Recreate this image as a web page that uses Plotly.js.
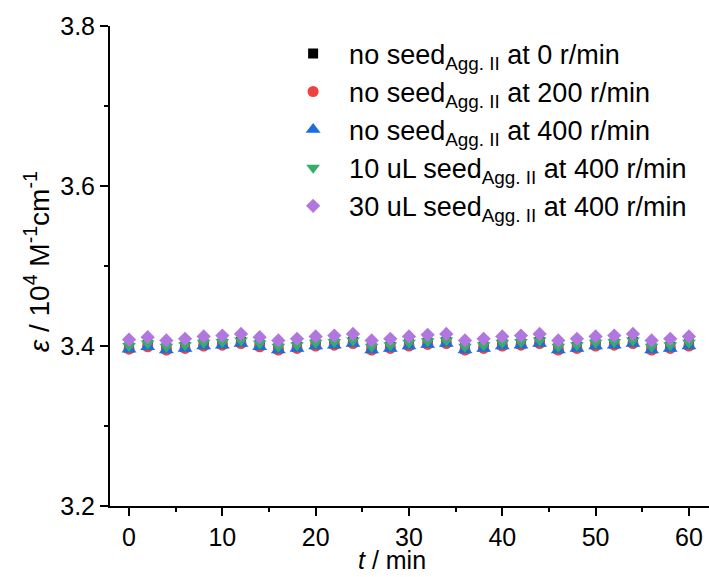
<!DOCTYPE html>
<html>
<head>
<meta charset="utf-8">
<script src="https://cdn.plot.ly/plotly-3.0.1.min.js"></script>
<style>html,body{margin:0;padding:0;background:#fff;}#chart{width:709px;height:577px;}</style>
</head>
<body>
<div id="chart"></div>
<script>
const timeMin = [0,2,4,6,8,10,12,14,16,18,20,22,24,26,28,30,32,34,36,38,40,42,44,46,48,50,52,54,56,58,60];

const noSeed0 = [3.398,3.401,3.397,3.399,3.402,3.403,3.405,3.401,3.397,3.399,3.402,3.403,3.405,3.397,3.399,3.402,3.404,3.405,3.397,3.399,3.402,3.403,3.405,3.397,3.399,3.402,3.403,3.405,3.397,3.399,3.402];
const noSeed200 = [3.396,3.399,3.395,3.397,3.400,3.401,3.403,3.399,3.395,3.397,3.400,3.401,3.403,3.395,3.397,3.400,3.402,3.403,3.395,3.397,3.400,3.401,3.403,3.395,3.397,3.400,3.401,3.403,3.395,3.397,3.400];
const noSeed400 = [3.396,3.399,3.395,3.397,3.400,3.401,3.403,3.399,3.395,3.397,3.400,3.401,3.403,3.395,3.397,3.400,3.402,3.403,3.395,3.397,3.400,3.401,3.403,3.395,3.397,3.400,3.401,3.403,3.395,3.397,3.400];
const seed10_400 = [3.400,3.403,3.399,3.401,3.404,3.405,3.407,3.403,3.399,3.401,3.404,3.405,3.407,3.399,3.401,3.404,3.406,3.407,3.399,3.401,3.404,3.405,3.407,3.399,3.401,3.404,3.405,3.407,3.399,3.401,3.404];
const seed30_400 = [3.408,3.411,3.407,3.409,3.412,3.413,3.415,3.411,3.407,3.409,3.412,3.413,3.415,3.407,3.409,3.412,3.414,3.415,3.407,3.409,3.412,3.413,3.415,3.407,3.409,3.412,3.413,3.415,3.407,3.409,3.412];

const seriesNames = [
  "no seed<sub>Agg. II</sub> at 0 r/min",
  "no seed<sub>Agg. II</sub> at 200 r/min",
  "no seed<sub>Agg. II</sub> at 400 r/min",
  "10 uL seed<sub>Agg. II</sub> at 400 r/min",
  "30 uL seed<sub>Agg. II</sub> at 400 r/min"
];
const seriesValues = [noSeed0, noSeed200, noSeed400, seed10_400, seed30_400];
const seriesColors = ["#000000", "#F14040", "#1A6FDF", "#37AD6B", "#B177DE"];
const seriesSymbols = ["square", "circle", "triangle-up", "triangle-down", "diamond"];
const seriesSizes = [10, 11, 13, 12, 11];

const FONT = "Arial, 'Liberation Sans', sans-serif";

const traces = seriesValues.map((vals, i) => ({
  type: "scatter",
  mode: "markers",
  x: timeMin,
  y: vals,
  name: seriesNames[i],
  legendgroup: "g" + i,
  marker: {color: seriesColors[i], symbol: seriesSymbols[i], size: seriesSizes[i], line: {width: 0}}
}));

const layout = {
  width: 709,
  height: 577,
  margin: {l: 110, r: 0, t: 26, b: 71},
  paper_bgcolor: "#ffffff",
  plot_bgcolor: "#ffffff",
  font: {family: FONT, size: 26, color: "#000"},
  showlegend: true,
  legend: {
    x: 0.279, y: 0.993, xanchor: "left", yanchor: "top",
    font: {family: FONT, size: 27, color: "#000"},
    itemwidth: 62,
    tracegroupgap: 0,
    bgcolor: "rgba(0,0,0,0)",
    borderwidth: 0
  },
  xaxis: {
    range: [-2.04, 62.15],
    showgrid: false, zeroline: false,
    showline: true, linecolor: "#000", linewidth: 2,
    ticks: "outside", ticklen: 8, tickwidth: 2, tickcolor: "#000",
    tick0: 0, dtick: 10,
    minor: {ticks: "outside", ticklen: 4, tickwidth: 2, tickcolor: "#000", dtick: 5, tick0: 0, showgrid: false},
    tickfont: {family: FONT, size: 25, color: "#000"}
  },
  yaxis: {
    range: [3.2, 3.8],
    showgrid: false, zeroline: false,
    showline: true, linecolor: "#000", linewidth: 2,
    ticks: "outside", ticklen: 8, tickwidth: 2, tickcolor: "#000",
    tick0: 3.2, dtick: 0.2, tickformat: ".1f",
    minor: {ticks: "outside", ticklen: 4, tickwidth: 2, tickcolor: "#000", dtick: 0.1, tick0: 3.2, showgrid: false},
    tickfont: {family: FONT, size: 25, color: "#000"}
  },
  annotations: [
    {
      xref: "paper", yref: "paper", x: (392 - 110) / 599, y: -0.113,
      xanchor: "center", yanchor: "middle", showarrow: false,
      text: "<i>t</i> / min",
      font: {family: FONT, size: 25, color: "#000"}
    },
    {
      xref: "paper", yref: "paper", x: (37 - 110) / 599, y: 0.508,
      xanchor: "center", yanchor: "middle", showarrow: false, textangle: -90,
      text: "<i>ε</i> / 10<sup>4</sup> M<sup>-1</sup>cm<sup>-1</sup>",
      font: {family: FONT, size: 28, color: "#000"}
    }
  ]
};

Plotly.newPlot("chart", traces, layout, {displayModeBar: false, staticPlot: true});
</script>
</body>
</html>
